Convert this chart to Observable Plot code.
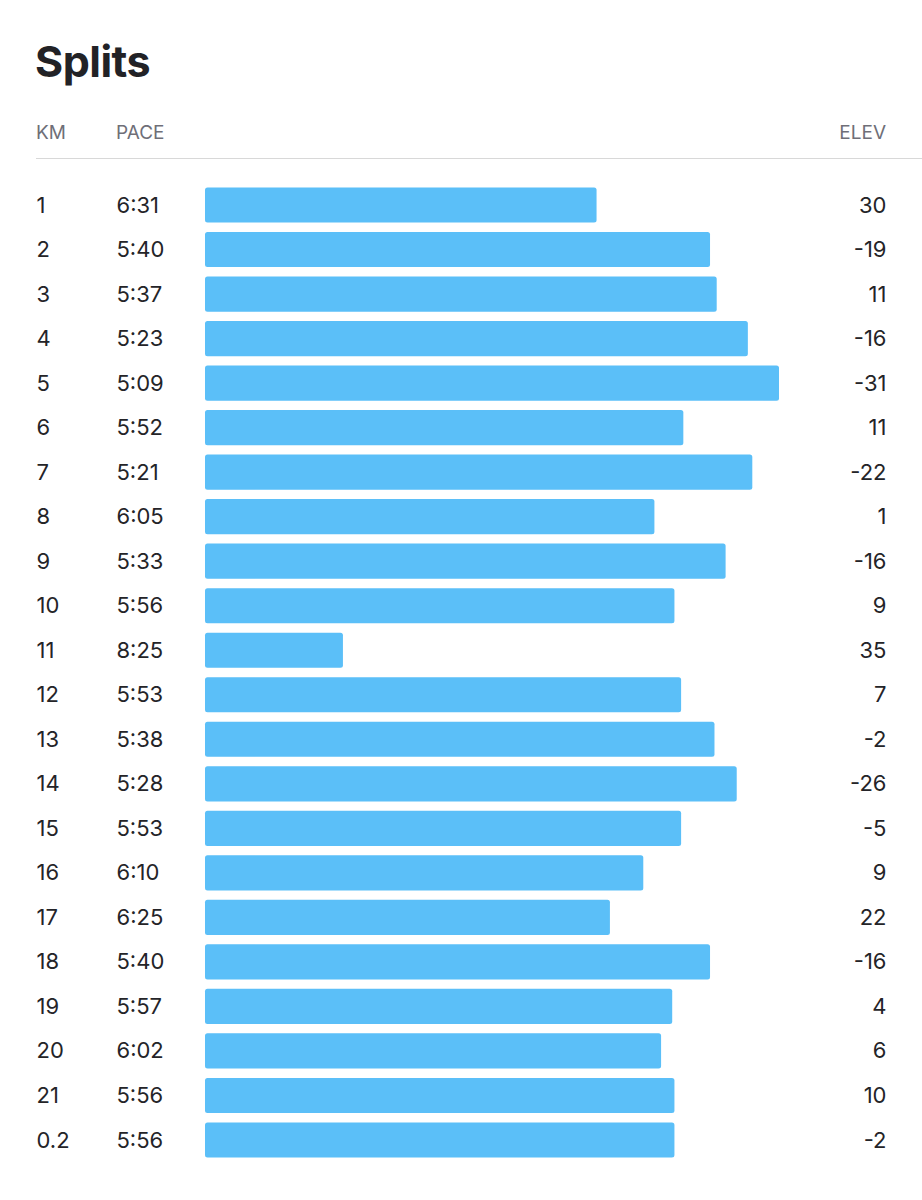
<!DOCTYPE html>
<html>
<head>
<meta charset="utf-8">
<script src="https://cdn.jsdelivr.net/npm/d3@7"></script>
<script src="https://cdn.jsdelivr.net/npm/@observablehq/plot@0.6"></script>
<style>
  html, body { margin: 0; padding: 0; background: #fff; }
  #wrap { position: relative; width: 922px; height: 1200px; font-family: Inter, "Noto Sans", sans-serif; }
  #title { position: absolute; left: 35px; top: 40px; font-size: 43px; line-height: 1; font-weight: 700; color: #222226; letter-spacing: -0.5px; }
  .hdr { position: absolute; top: 123px; font-size: 19px; line-height: 1; color: #6f6f78; }
  #rule { position: absolute; left: 36px; right: 0; top: 158px; height: 0; border-top: 1.5px solid #d8d8d8; }
  #chart { position: absolute; left: 0; top: 160px; }
</style>
</head>
<body>
<div id="wrap">
  <div id="title">Splits</div>
  <div class="hdr" style="left:36px">KM</div>
  <div class="hdr" style="left:116px">PACE</div>
  <div class="hdr" style="right:36px">ELEV</div>
  <div id="rule"></div>
  <div id="chart"></div>
</div>
<script>
const km = ["1","2","3","4","5","6","7","8","9","10","11","12","13","14","15","16","17","18","19","20","21","0.2"];
const pace = ["6:31","5:40","5:37","5:23","5:09","5:52","5:21","6:05","5:33","5:56","8:25","5:53","5:38","5:28","5:53","6:10","6:25","5:40","5:57","6:02","5:56","5:56"];
const elev = [30,-19,11,-16,-31,11,-22,1,-16,9,35,7,-2,-26,-5,9,22,-16,4,6,10,-2];
const paceBase = 567;   // pace (s/km) at the bar baseline
const paceFast = 309;   // fastest split reference

const toSec = s => { const [m, sec] = s.split(":").map(Number); return m * 60 + sec; };
const data = km.map((k, i) => ({ km: k, pace: pace[i], sec: toSec(pace[i]), elev: elev[i] }));

const chart = Plot.plot({
  width: 922,
  height: 1040,
  marginTop: 22.74,
  marginBottom: 37.74,
  marginLeft: 0,
  marginRight: 0,
  style: { fontFamily: "Inter, 'Noto Sans', sans-serif", fontSize: "22px", color: "#242428", background: "#fff" },
  x: { domain: [paceBase, paceFast], range: [205, 779], axis: null },
  y: { type: "band", domain: km, paddingInner: 0.21, paddingOuter: 0.105, round: false, axis: null },
  marks: [
    Plot.barX(data, { y: "km", x1: paceBase, x2: "sec", fill: "#5bbff8", rx: 2.5 }),
    Plot.text(data, { y: "km", text: "km", frameAnchor: "left", dx: 36, textAnchor: "start", fill: "#242428", fontSize: 22 }),
    Plot.text(data, { y: "km", text: "pace", frameAnchor: "left", dx: 116, textAnchor: "start", fill: "#242428", fontSize: 22 }),
    Plot.text(data, { y: "km", text: d => String(d.elev), frameAnchor: "right", dx: -36, textAnchor: "end", fill: "#242428", fontSize: 22 })
  ]
});
document.getElementById("chart").appendChild(chart);
</script>
</body>
</html>
